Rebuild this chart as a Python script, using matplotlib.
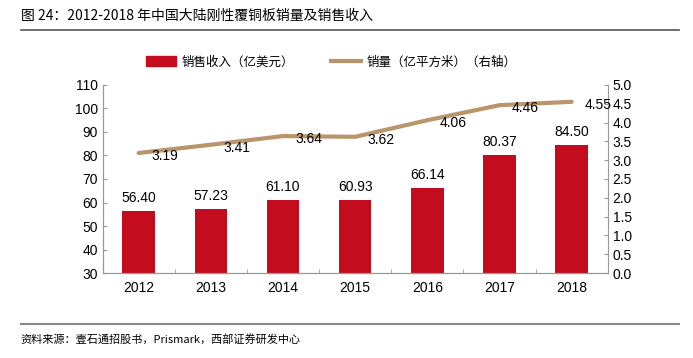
import numpy as np
import matplotlib.pyplot as plt
from matplotlib.lines import Line2D

plt.rcParams['font.family'] = ['Liberation Sans', 'Noto Sans CJK SC', 'DejaVu Sans']

years = ["2012", "2013", "2014", "2015", "2016", "2017", "2018"]
revenue = [56.40, 57.23, 61.10, 60.93, 66.14, 80.37, 84.50]
volume = [3.19, 3.41, 3.64, 3.62, 4.06, 4.46, 4.55]

bar_color = "#c30d1e"
line_color = "#b8956a"
cjk = ['Noto Sans CJK SC', 'DejaVu Sans']

fig = plt.figure(figsize=(6.93, 3.58), dpi=100)
ax = fig.add_axes([0.148, 0.237, 0.729, 0.526])
ax2 = ax.twinx()

x = np.arange(len(years))
ax.bar(x, [v - 30 for v in revenue], bottom=30, width=0.45, color=bar_color, zorder=2)
for xi, v in zip(x, revenue):
    ax.text(xi, v + 2.5, f"{v:.2f}", ha='center', va='bottom', fontsize=10)

ax.set_ylim(30, 110)
ax.set_yticks(range(30, 111, 10))
ax.set_xlim(-0.5, len(years) - 0.5)
ax.set_xticks(x)
ax.set_xticklabels(years, fontsize=10)
ax.set_xticks(np.arange(-0.5, len(years)), minor=True)
ax.tick_params(axis='x', which='major', length=0, pad=6)
ax.tick_params(axis='x', which='minor', direction='in', length=3, color='#999999')
ax.tick_params(axis='y', direction='in', length=3, color='#999999', labelsize=10)

ax2.plot(x, volume, color=line_color, linewidth=3, solid_capstyle='round', zorder=3)
for xi, v in zip(x, volume):
    ax2.annotate(f"{v:.2f}", (xi, v), xytext=(9, -2), textcoords='offset points',
                 ha='left', va='center', fontsize=10)
ax2.set_ylim(0, 5)
ax2.set_yticks(np.arange(0, 5.01, 0.5))
ax2.set_yticklabels([f"{t:.1f}" for t in np.arange(0, 5.01, 0.5)])
ax2.tick_params(axis='y', direction='in', length=3, color='#999999', labelsize=10)

for a in (ax, ax2):
    a.spines['top'].set_visible(False)
    for s in ('left', 'right', 'bottom'):
        a.spines[s].set_color('#999999')
        a.spines[s].set_linewidth(0.8)
ax.spines['right'].set_visible(False)

handles = [plt.Rectangle((0, 0), 1, 1, color=bar_color),
           Line2D([0], [0], color=line_color, linewidth=3)]
labels = ["销售收入（亿美元）", "销量（亿平方米）（右轴）"]
fig.legend(handles, labels, loc='center left', bbox_to_anchor=(0.211, 0.827), ncol=2,
           frameon=False, prop={'family': cjk, 'size': 9}, handlelength=2.4,
           handleheight=0.9, columnspacing=3.0, handletextpad=0.4,
           borderpad=0, borderaxespad=0)

fig.text(0.03, 0.955, "图 24：2012-2018 年中国大陆刚性覆铜板销量及销售收入",
         fontsize=10, family=cjk, va='center')
fig.add_artist(Line2D([0.03, 0.98], [0.915, 0.915], color='#555555', linewidth=1.2))
fig.add_artist(Line2D([0.03, 0.98], [0.095, 0.095], color='#888888', linewidth=1.5))
fig.text(0.03, 0.053, "资料来源：壹石通招股书，Prismark，西部证券研发中心",
         fontsize=8, family=cjk, va='center')

fig.savefig("out.png", dpi=100)
